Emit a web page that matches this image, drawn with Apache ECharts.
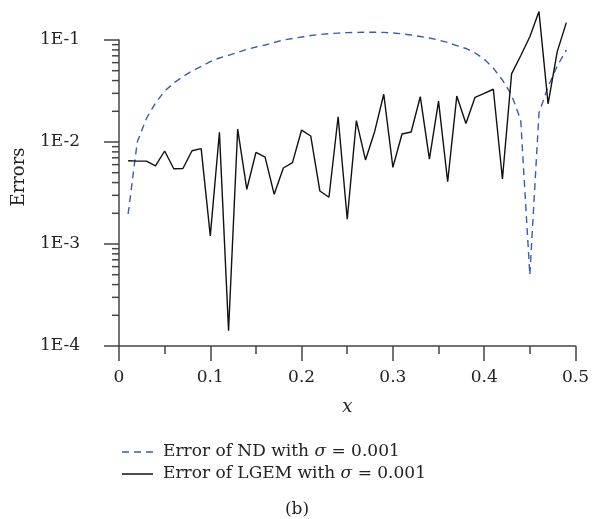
<!DOCTYPE html>
<html>
<head>
<meta charset="utf-8">
<script src="https://cdn.jsdelivr.net/npm/echarts@6/dist/echarts.min.js"></script>
<style>html,body{margin:0;padding:0;background:#fff}#c{width:592px;height:519px}</style>
</head>
<body>
<div id="c"></div>
<script>
const xValues = [0.01,0.02,0.03,0.04,0.05,0.06,0.07,0.08,0.09,0.10,
  0.11,0.12,0.13,0.14,0.15,0.16,0.17,0.18,0.19,0.20,
  0.21,0.22,0.23,0.24,0.25,0.26,0.27,0.28,0.29,0.30,
  0.31,0.32,0.33,0.34,0.35,0.36,0.37,0.38,0.39,0.40,
  0.41,0.42,0.43,0.44,0.45,0.46,0.47,0.48,0.49];
const ndErrors = [0.00197,0.0100,0.0170,0.0241,0.0316,0.0379,0.0438,0.0497,0.0550,0.0614,
  0.0666,0.0708,0.0754,0.0810,0.0854,0.0893,0.0945,0.100,0.1035,0.107,
  0.1107,0.1132,0.1153,0.1169,0.118,0.1187,0.119,0.119,0.1187,0.117,
  0.115,0.112,0.1082,0.1046,0.100,0.0945,0.088,0.0826,0.0746,0.0651,
  0.0530,0.0405,0.0289,0.0164,0.000497,0.0192,0.0348,0.0556,0.0800];
const lgemErrors = [0.00656,0.0065,0.0065,0.00582,0.00816,0.00547,0.0055,0.0082,0.0086,0.0012,
  0.01245,0.000141,0.0134,0.00344,0.0079,0.0071,0.00307,0.00556,0.00627,0.0131,
  0.01146,0.00331,0.00287,0.0177,0.00175,0.0162,0.00667,0.01262,0.0294,0.00565,
  0.01197,0.01253,0.0278,0.0068,0.0252,0.00408,0.0282,0.0152,0.0274,0.0300,
  0.0329,0.00434,0.0465,0.070,0.1077,0.19,0.0236,0.0769,0.148];
const minorTickValues = [0.0002,0.0003,0.0004,0.0005,0.0006,0.0007,0.0008,0.0009,
  0.002,0.003,0.004,0.005,0.006,0.007,0.008,0.009,
  0.02,0.03,0.04,0.05,0.06,0.07,0.08,0.09];
const xTicks = [0, 0.1, 0.2, 0.3, 0.4, 0.5];
const yTicks = ['1E-4','1E-3','1E-2','1E-1'];
const seriesNames = ['Error of ND with σ = 0.001', 'Error of LGEM with σ = 0.001'];

const FONT = 'DejaVu Serif';
const AXIS = '#444';
const BLUE = '#3a5db2';
const TXT = '#222';

const chart = echarts.init(document.getElementById('c'), null, {renderer: 'canvas'});
chart.setOption({
  animation: false,
  backgroundColor: '#fff',
  grid: {left: 119, right: 15, top: 40, bottom: 173, containLabel: false},
  xAxis: {
    type: 'value', min: 0, max: 0.5, interval: 0.1,
    name: 'x', nameLocation: 'middle', nameGap: 52,
    nameTextStyle: {fontFamily: FONT, fontSize: 18, fontStyle: 'italic', color: TXT},
    axisLine: {show: true, onZero: false, lineStyle: {color: AXIS, width: 1.5}},
    axisTick: {show: true, inside: false, length: 15, lineStyle: {color: AXIS, width: 1.5}},
    minorTick: {show: true, splitNumber: 2, length: 8, lineStyle: {color: AXIS, width: 1.5}},
    splitLine: {show: false}, minorSplitLine: {show: false},
    axisLabel: {fontFamily: FONT, fontSize: 17, color: TXT, margin: 23,
      formatter: v => { const t = xTicks.find(k => Math.abs(k - v) < 1e-9); return t === undefined ? '' : String(t); }}
  },
  yAxis: {
    type: 'log', logBase: 10, min: 0.0001, max: 0.1, splitNumber: 3,
    axisLine: {show: true, onZero: false, lineStyle: {color: AXIS, width: 1.5}},
    axisTick: {show: true, inside: false, length: 15, lineStyle: {color: AXIS, width: 1.5}},
    minorTick: {show: false},
    splitLine: {show: false},
    axisLabel: {fontFamily: FONT, fontSize: 17, color: TXT, margin: 39,
      formatter: v => { const e = Math.round(Math.log10(v)); return yTicks[e + 4] || ''; }}
  },
  legend: {
    orient: 'vertical', left: 122, top: 441, padding: 0, itemGap: 0,
    itemWidth: 31, itemHeight: 1.5,
    data: [
      {name: seriesNames[0], icon: 'path://M0,0h7v1.5h-7z M12,0h7v1.5h-7z M24,0h7v1.5h-7z'},
      {name: seriesNames[1], icon: 'path://M0,0h31v1.5h-31z'}
    ],
    formatter: name => name.replace('σ', '{i|σ}'),
    textStyle: {fontFamily: FONT, fontSize: 17, color: TXT, lineHeight: 22, padding: [0,0,0,5],
      rich: {i: {fontFamily: FONT, fontSize: 17, fontStyle: 'italic', color: TXT}}}
  },
  graphic: [
    {type: 'text', x: 19, y: 177, rotation: Math.PI / 2,
      style: {text: 'Errors', font: '18px "DejaVu Serif"', fill: TXT, align: 'center', verticalAlign: 'middle'}},
    {type: 'text', x: 297, y: 510,
      style: {text: '(b)', font: '17px "DejaVu Serif"', fill: TXT, align: 'center', verticalAlign: 'middle'}}
  ],
  series: [
    {
      name: seriesNames[0], type: 'line', clip: false, symbol: 'none',
      data: xValues.map((x, i) => [x, ndErrors[i]]),
      lineStyle: {color: BLUE, width: 1.4, type: [7, 5]},
      itemStyle: {color: BLUE}
    },
    {
      name: seriesNames[1], type: 'line', clip: false, symbol: 'none',
      data: xValues.map((x, i) => [x, lgemErrors[i]]),
      lineStyle: {color: '#111', width: 1.4},
      itemStyle: {color: '#111'}
    },
    {
      name: 'minorTicks', type: 'custom', silent: true, clip: false,
      data: minorTickValues.map(v => [0, v]),
      encode: {x: 0, y: 1},
      renderItem: (params, api) => {
        const p = api.coord([0, api.value(1)]);
        return {type: 'line', shape: {x1: p[0] - 7, y1: p[1], x2: p[0], y2: p[1]},
          style: {stroke: AXIS, lineWidth: 1.5}};
      }
    }
  ]
});
</script>
</body>
</html>
